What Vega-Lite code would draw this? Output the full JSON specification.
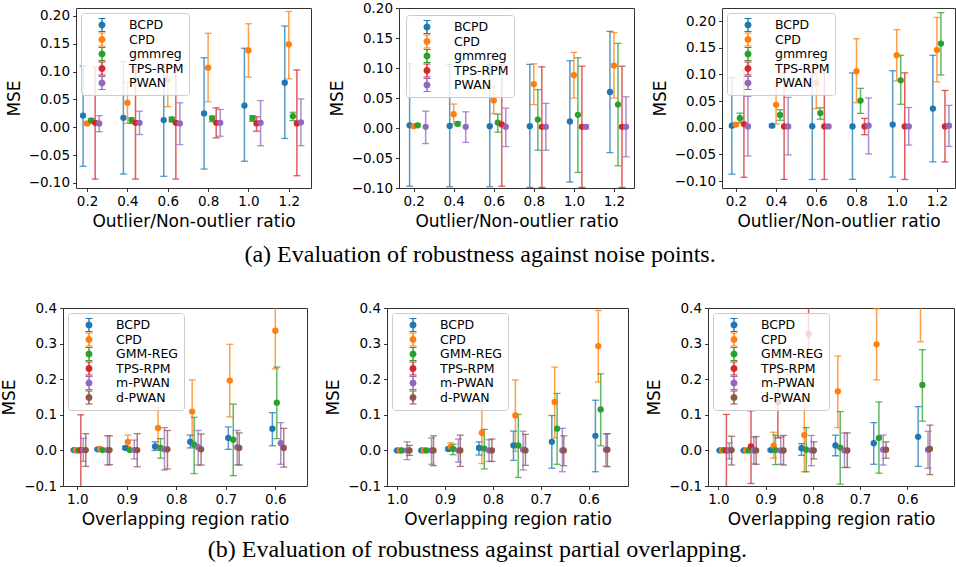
{
"$schema": "https://vega.github.io/schema/vega-lite/v6.json",
"padding": {"left": 0, "top": 0, "right": 0, "bottom": 0},
"background": "white",
"config": {
  "font": "DejaVu Sans",
  "view": {"stroke": "#333333", "strokeWidth": 1},
  "axis": {"grid": false, "domain": false, "tickColor": "#000000", "tickSize": 3.5, "tickWidth": 0.8, "labelColor": "#000000", "labelFontSize": 13.5, "labelFont": "DejaVu Sans", "labelPadding": 3, "labelFlush": false, "labelOverlap": false, "titleFont": "DejaVu Sans", "titleFontSize": 17, "titleFontWeight": "normal", "titleColor": "#000000", "titlePadding": 5},
  "legend": {"orient": "top-left", "offset": 5, "padding": 5, "fillColor": "rgba(255,255,255,0.8)", "strokeColor": "#cccccc", "cornerRadius": 3, "labelFont": "DejaVu Sans", "labelFontSize": 12.5, "labelColor": "#000000", "labelOffset": 20, "symbolOffset": 9, "rowPadding": 0.5, "symbolSize": 196, "symbolStrokeWidth": 0, "symbolOpacity": 1}
},
"datasets": {
  "p1": [
    {"x":0.18,"mse":0.021,"lo":-0.070,"hi":0.110,"method":"BCPD"},
    {"x":0.38,"mse":0.017,"lo":-0.084,"hi":0.118,"method":"BCPD"},
    {"x":0.58,"mse":0.013,"lo":-0.088,"hi":0.113,"method":"BCPD"},
    {"x":0.78,"mse":0.025,"lo":-0.075,"hi":0.125,"method":"BCPD"},
    {"x":0.98,"mse":0.039,"lo":-0.061,"hi":0.142,"method":"BCPD"},
    {"x":1.18,"mse":0.080,"lo":-0.020,"hi":0.182,"method":"BCPD"},
    {"x":0.20,"mse":0.007,"lo":0.004,"hi":0.010,"method":"CPD"},
    {"x":0.40,"mse":0.044,"lo":0.007,"hi":0.081,"method":"CPD"},
    {"x":0.60,"mse":0.085,"lo":0.037,"hi":0.133,"method":"CPD"},
    {"x":0.80,"mse":0.107,"lo":0.046,"hi":0.169,"method":"CPD"},
    {"x":1.00,"mse":0.138,"lo":0.090,"hi":0.186,"method":"CPD"},
    {"x":1.20,"mse":0.149,"lo":0.087,"hi":0.208,"method":"CPD"},
    {"x":0.22,"mse":0.012,"lo":0.008,"hi":0.016,"method":"gmmreg"},
    {"x":0.42,"mse":0.013,"lo":0.007,"hi":0.017,"method":"gmmreg"},
    {"x":0.62,"mse":0.014,"lo":0.010,"hi":0.018,"method":"gmmreg"},
    {"x":0.82,"mse":0.016,"lo":0.010,"hi":0.020,"method":"gmmreg"},
    {"x":1.02,"mse":0.016,"lo":0.011,"hi":0.021,"method":"gmmreg"},
    {"x":1.22,"mse":0.020,"lo":0.012,"hi":0.027,"method":"gmmreg"},
    {"x":0.24,"mse":0.008,"lo":-0.093,"hi":0.108,"method":"TPS-RPM"},
    {"x":0.44,"mse":0.008,"lo":-0.093,"hi":0.108,"method":"TPS-RPM"},
    {"x":0.64,"mse":0.008,"lo":-0.093,"hi":0.108,"method":"TPS-RPM"},
    {"x":0.84,"mse":0.008,"lo":-0.019,"hi":0.035,"method":"TPS-RPM"},
    {"x":1.04,"mse":0.007,"lo":-0.007,"hi":0.019,"method":"TPS-RPM"},
    {"x":1.24,"mse":0.007,"lo":-0.087,"hi":0.103,"method":"TPS-RPM"},
    {"x":0.26,"mse":0.007,"lo":-0.008,"hi":0.021,"method":"PWAN"},
    {"x":0.46,"mse":0.008,"lo":-0.013,"hi":0.029,"method":"PWAN"},
    {"x":0.66,"mse":0.007,"lo":-0.031,"hi":0.044,"method":"PWAN"},
    {"x":0.86,"mse":0.008,"lo":-0.016,"hi":0.032,"method":"PWAN"},
    {"x":1.06,"mse":0.008,"lo":-0.033,"hi":0.048,"method":"PWAN"},
    {"x":1.26,"mse":0.009,"lo":-0.033,"hi":0.051,"method":"PWAN"}
  ],
  "p2": [
    {"x":0.18,"mse":0.0045,"lo":-0.097,"hi":0.107,"method":"BCPD"},
    {"x":0.38,"mse":0.0035,"lo":-0.098,"hi":0.106,"method":"BCPD"},
    {"x":0.58,"mse":0.003,"lo":-0.098,"hi":0.106,"method":"BCPD"},
    {"x":0.78,"mse":0.003,"lo":-0.099,"hi":0.106,"method":"BCPD"},
    {"x":0.98,"mse":0.011,"lo":-0.090,"hi":0.112,"method":"BCPD"},
    {"x":1.18,"mse":0.060,"lo":-0.041,"hi":0.161,"method":"BCPD"},
    {"x":0.20,"mse":0.003,"lo":0.001,"hi":0.005,"method":"CPD"},
    {"x":0.40,"mse":0.023,"lo":0.007,"hi":0.040,"method":"CPD"},
    {"x":0.60,"mse":0.046,"lo":0.024,"hi":0.069,"method":"CPD"},
    {"x":0.80,"mse":0.073,"lo":0.039,"hi":0.107,"method":"CPD"},
    {"x":1.00,"mse":0.088,"lo":0.050,"hi":0.126,"method":"CPD"},
    {"x":1.20,"mse":0.104,"lo":0.050,"hi":0.159,"method":"CPD"},
    {"x":0.22,"mse":0.0045,"lo":0.002,"hi":0.007,"method":"gmmreg"},
    {"x":0.42,"mse":0.007,"lo":0.004,"hi":0.010,"method":"gmmreg"},
    {"x":0.62,"mse":0.009,"lo":-0.007,"hi":0.023,"method":"gmmreg"},
    {"x":0.82,"mse":0.014,"lo":-0.037,"hi":0.064,"method":"gmmreg"},
    {"x":1.02,"mse":0.022,"lo":-0.074,"hi":0.117,"method":"gmmreg"},
    {"x":1.22,"mse":0.039,"lo":-0.063,"hi":0.141,"method":"gmmreg"},
    {"x":0.64,"mse":0.006,"lo":-0.097,"hi":0.106,"method":"TPS-RPM"},
    {"x":0.84,"mse":0.002,"lo":-0.099,"hi":0.102,"method":"TPS-RPM"},
    {"x":1.04,"mse":0.002,"lo":-0.099,"hi":0.103,"method":"TPS-RPM"},
    {"x":1.24,"mse":0.002,"lo":-0.099,"hi":0.103,"method":"TPS-RPM"},
    {"x":0.26,"mse":0.002,"lo":-0.026,"hi":0.028,"method":"PWAN"},
    {"x":0.46,"mse":0.002,"lo":-0.024,"hi":0.027,"method":"PWAN"},
    {"x":0.66,"mse":0.002,"lo":-0.031,"hi":0.033,"method":"PWAN"},
    {"x":0.86,"mse":0.002,"lo":-0.037,"hi":0.041,"method":"PWAN"},
    {"x":1.06,"mse":0.002,"lo":-0.001,"hi":0.005,"method":"PWAN"},
    {"x":1.26,"mse":0.002,"lo":-0.048,"hi":0.052,"method":"PWAN"}
  ],
  "p3": [
    {"x":0.18,"mse":0.004,"lo":-0.087,"hi":0.094,"method":"BCPD"},
    {"x":0.38,"mse":0.004,"lo":0.002,"hi":0.006,"method":"BCPD"},
    {"x":0.58,"mse":0.003,"lo":-0.097,"hi":0.103,"method":"BCPD"},
    {"x":0.78,"mse":0.0025,"lo":-0.097,"hi":0.103,"method":"BCPD"},
    {"x":0.98,"mse":0.006,"lo":-0.0925,"hi":0.107,"method":"BCPD"},
    {"x":1.18,"mse":0.036,"lo":-0.064,"hi":0.136,"method":"BCPD"},
    {"x":0.20,"mse":0.006,"lo":0.003,"hi":0.009,"method":"CPD"},
    {"x":0.40,"mse":0.043,"lo":0.007,"hi":0.078,"method":"CPD"},
    {"x":0.60,"mse":0.084,"lo":0.036,"hi":0.131,"method":"CPD"},
    {"x":0.80,"mse":0.106,"lo":0.047,"hi":0.167,"method":"CPD"},
    {"x":1.00,"mse":0.136,"lo":0.088,"hi":0.184,"method":"CPD"},
    {"x":1.20,"mse":0.146,"lo":0.086,"hi":0.207,"method":"CPD"},
    {"x":0.22,"mse":0.018,"lo":0.009,"hi":0.0275,"method":"gmmreg"},
    {"x":0.42,"mse":0.024,"lo":0.014,"hi":0.034,"method":"gmmreg"},
    {"x":0.62,"mse":0.0275,"lo":0.016,"hi":0.0375,"method":"gmmreg"},
    {"x":0.82,"mse":0.051,"lo":0.027,"hi":0.074,"method":"gmmreg"},
    {"x":1.02,"mse":0.089,"lo":0.044,"hi":0.136,"method":"gmmreg"},
    {"x":1.22,"mse":0.158,"lo":0.099,"hi":0.216,"method":"gmmreg"},
    {"x":0.24,"mse":0.007,"lo":-0.093,"hi":0.108,"method":"TPS-RPM"},
    {"x":0.44,"mse":0.0025,"lo":-0.097,"hi":0.103,"method":"TPS-RPM"},
    {"x":0.64,"mse":0.0025,"lo":-0.097,"hi":0.103,"method":"TPS-RPM"},
    {"x":0.84,"mse":0.0025,"lo":-0.013,"hi":0.0175,"method":"TPS-RPM"},
    {"x":1.04,"mse":0.0025,"lo":-0.097,"hi":0.103,"method":"TPS-RPM"},
    {"x":1.24,"mse":0.0025,"lo":-0.064,"hi":0.070,"method":"TPS-RPM"},
    {"x":0.26,"mse":0.0025,"lo":-0.053,"hi":0.059,"method":"PWAN"},
    {"x":0.46,"mse":0.0025,"lo":-0.051,"hi":0.057,"method":"PWAN"},
    {"x":0.66,"mse":0.0025,"lo":0.0,"hi":0.005,"method":"PWAN"},
    {"x":0.86,"mse":0.004,"lo":-0.049,"hi":0.056,"method":"PWAN"},
    {"x":1.06,"mse":0.0025,"lo":-0.0325,"hi":0.038,"method":"PWAN"},
    {"x":1.26,"mse":0.004,"lo":-0.035,"hi":0.042,"method":"PWAN"}
  ],
  "p4": [
    {"x":1.007,"mse":0.001,"lo":-0.002,"hi":0.004,"method":"BCPD"},
    {"x":0.959,"mse":0.003,"lo":0.0,"hi":0.006,"method":"BCPD"},
    {"x":0.903,"mse":0.007,"lo":0.003,"hi":0.011,"method":"BCPD"},
    {"x":0.843,"mse":0.011,"lo":0.0,"hi":0.024,"method":"BCPD"},
    {"x":0.772,"mse":0.024,"lo":0.007,"hi":0.043,"method":"BCPD"},
    {"x":0.695,"mse":0.035,"lo":0.003,"hi":0.066,"method":"BCPD"},
    {"x":0.606,"mse":0.061,"lo":0.013,"hi":0.106,"method":"BCPD"},
    {"x":1.003,"mse":0.0,"lo":-0.002,"hi":0.002,"method":"CPD"},
    {"x":0.954,"mse":0.004,"lo":0.002,"hi":0.006,"method":"CPD"},
    {"x":0.898,"mse":0.024,"lo":0.011,"hi":0.043,"method":"CPD"},
    {"x":0.837,"mse":0.063,"lo":0.005,"hi":0.122,"method":"CPD"},
    {"x":0.768,"mse":0.109,"lo":0.020,"hi":0.198,"method":"CPD"},
    {"x":0.692,"mse":0.196,"lo":0.094,"hi":0.298,"method":"CPD"},
    {"x":0.600,"mse":0.336,"lo":0.229,"hi":0.438,"method":"CPD"},
    {"x":0.998,"mse":0.0,"lo":-0.002,"hi":0.002,"method":"GMM-REG"},
    {"x":0.949,"mse":0.001,"lo":-0.001,"hi":0.003,"method":"GMM-REG"},
    {"x":0.894,"mse":0.001,"lo":-0.001,"hi":0.003,"method":"GMM-REG"},
    {"x":0.832,"mse":0.007,"lo":-0.022,"hi":0.033,"method":"GMM-REG"},
    {"x":0.764,"mse":0.016,"lo":-0.065,"hi":0.093,"method":"GMM-REG"},
    {"x":0.685,"mse":0.030,"lo":-0.071,"hi":0.130,"method":"GMM-REG"},
    {"x":0.597,"mse":0.134,"lo":0.033,"hi":0.234,"method":"GMM-REG"},
    {"x":0.993,"mse":0.001,"lo":-0.103,"hi":0.100,"method":"TPS-RPM"},
    {"x":0.988,"mse":0.001,"lo":-0.031,"hi":0.034,"method":"m-PWAN"},
    {"x":0.939,"mse":0.001,"lo":-0.041,"hi":0.041,"method":"m-PWAN"},
    {"x":0.885,"mse":0.001,"lo":-0.024,"hi":0.029,"method":"m-PWAN"},
    {"x":0.824,"mse":0.003,"lo":-0.055,"hi":0.064,"method":"m-PWAN"},
    {"x":0.756,"mse":0.009,"lo":-0.041,"hi":0.056,"method":"m-PWAN"},
    {"x":0.677,"mse":0.009,"lo":-0.041,"hi":0.056,"method":"m-PWAN"},
    {"x":0.589,"mse":0.020,"lo":-0.039,"hi":0.078,"method":"m-PWAN"},
    {"x":0.983,"mse":0.001,"lo":-0.045,"hi":0.047,"method":"d-PWAN"},
    {"x":0.935,"mse":0.001,"lo":-0.040,"hi":0.041,"method":"d-PWAN"},
    {"x":0.879,"mse":0.001,"lo":-0.046,"hi":0.047,"method":"d-PWAN"},
    {"x":0.818,"mse":0.003,"lo":-0.052,"hi":0.056,"method":"d-PWAN"},
    {"x":0.750,"mse":0.003,"lo":-0.041,"hi":0.046,"method":"d-PWAN"},
    {"x":0.673,"mse":0.007,"lo":-0.041,"hi":0.049,"method":"d-PWAN"},
    {"x":0.583,"mse":0.007,"lo":-0.047,"hi":0.062,"method":"d-PWAN"}
  ],
  "p5": [
    {"x":1.000,"mse":0.0,"lo":-0.002,"hi":0.002,"method":"BCPD"},
    {"x":0.949,"mse":0.0,"lo":-0.002,"hi":0.002,"method":"BCPD"},
    {"x":0.893,"mse":0.004,"lo":0.0,"hi":0.008,"method":"BCPD"},
    {"x":0.829,"mse":0.007,"lo":-0.013,"hi":0.024,"method":"BCPD"},
    {"x":0.757,"mse":0.014,"lo":-0.028,"hi":0.054,"method":"BCPD"},
    {"x":0.677,"mse":0.024,"lo":-0.050,"hi":0.098,"method":"BCPD"},
    {"x":0.586,"mse":0.041,"lo":-0.060,"hi":0.141,"method":"BCPD"},
    {"x":0.994,"mse":0.0,"lo":-0.002,"hi":0.002,"method":"CPD"},
    {"x":0.944,"mse":0.0,"lo":-0.002,"hi":0.002,"method":"CPD"},
    {"x":0.888,"mse":0.010,"lo":0.001,"hi":0.021,"method":"CPD"},
    {"x":0.823,"mse":0.049,"lo":-0.037,"hi":0.133,"method":"CPD"},
    {"x":0.753,"mse":0.098,"lo":-0.003,"hi":0.198,"method":"CPD"},
    {"x":0.671,"mse":0.136,"lo":0.035,"hi":0.234,"method":"CPD"},
    {"x":0.580,"mse":0.293,"lo":0.192,"hi":0.393,"method":"CPD"},
    {"x":0.990,"mse":0.0,"lo":-0.002,"hi":0.002,"method":"GMM-REG"},
    {"x":0.939,"mse":0.0,"lo":-0.002,"hi":0.002,"method":"GMM-REG"},
    {"x":0.883,"mse":0.004,"lo":-0.012,"hi":0.017,"method":"GMM-REG"},
    {"x":0.818,"mse":0.005,"lo":-0.052,"hi":0.059,"method":"GMM-REG"},
    {"x":0.747,"mse":0.014,"lo":-0.076,"hi":0.101,"method":"GMM-REG"},
    {"x":0.666,"mse":0.061,"lo":-0.039,"hi":0.160,"method":"GMM-REG"},
    {"x":0.575,"mse":0.115,"lo":0.013,"hi":0.215,"method":"GMM-REG"},
    {"x":0.979,"mse":0.0,"lo":-0.026,"hi":0.024,"method":"m-PWAN"},
    {"x":0.928,"mse":0.0,"lo":-0.039,"hi":0.035,"method":"m-PWAN"},
    {"x":0.872,"mse":0.0,"lo":-0.033,"hi":0.032,"method":"m-PWAN"},
    {"x":0.808,"mse":0.0,"lo":-0.031,"hi":0.030,"method":"m-PWAN"},
    {"x":0.737,"mse":0.002,"lo":-0.055,"hi":0.054,"method":"m-PWAN"},
    {"x":0.655,"mse":0.0,"lo":-0.060,"hi":0.062,"method":"m-PWAN"},
    {"x":0.564,"mse":0.002,"lo":-0.044,"hi":0.046,"method":"m-PWAN"},
    {"x":0.974,"mse":0.0,"lo":-0.014,"hi":0.014,"method":"d-PWAN"},
    {"x":0.924,"mse":0.0,"lo":-0.043,"hi":0.041,"method":"d-PWAN"},
    {"x":0.868,"mse":0.0,"lo":-0.045,"hi":0.043,"method":"d-PWAN"},
    {"x":0.802,"mse":0.0,"lo":-0.031,"hi":0.032,"method":"d-PWAN"},
    {"x":0.732,"mse":0.0,"lo":-0.042,"hi":0.045,"method":"d-PWAN"},
    {"x":0.652,"mse":0.0,"lo":-0.043,"hi":0.041,"method":"d-PWAN"},
    {"x":0.561,"mse":0.002,"lo":-0.046,"hi":0.047,"method":"d-PWAN"}
  ],
  "p6": [
    {"x":0.997,"mse":0.0,"lo":-0.002,"hi":0.002,"method":"BCPD"},
    {"x":0.946,"mse":0.0,"lo":-0.002,"hi":0.002,"method":"BCPD"},
    {"x":0.889,"mse":0.001,"lo":-0.002,"hi":0.004,"method":"BCPD"},
    {"x":0.824,"mse":0.006,"lo":-0.014,"hi":0.019,"method":"BCPD"},
    {"x":0.752,"mse":0.014,"lo":-0.015,"hi":0.043,"method":"BCPD"},
    {"x":0.671,"mse":0.020,"lo":-0.039,"hi":0.078,"method":"BCPD"},
    {"x":0.577,"mse":0.038,"lo":-0.045,"hi":0.123,"method":"BCPD"},
    {"x":0.992,"mse":0.0,"lo":-0.002,"hi":0.002,"method":"CPD"},
    {"x":0.941,"mse":0.0,"lo":-0.002,"hi":0.002,"method":"CPD"},
    {"x":0.883,"mse":0.013,"lo":-0.022,"hi":0.051,"method":"CPD"},
    {"x":0.818,"mse":0.043,"lo":-0.060,"hi":0.144,"method":"CPD"},
    {"x":0.747,"mse":0.166,"lo":0.064,"hi":0.265,"method":"CPD"},
    {"x":0.665,"mse":0.298,"lo":0.198,"hi":0.398,"method":"CPD"},
    {"x":0.572,"mse":0.420,"lo":0.305,"hi":0.535,"method":"CPD"},
    {"x":0.988,"mse":0.001,"lo":-0.001,"hi":0.003,"method":"GMM-REG"},
    {"x":0.936,"mse":0.0,"lo":-0.002,"hi":0.002,"method":"GMM-REG"},
    {"x":0.879,"mse":0.001,"lo":-0.040,"hi":0.043,"method":"GMM-REG"},
    {"x":0.814,"mse":0.002,"lo":-0.060,"hi":0.064,"method":"GMM-REG"},
    {"x":0.742,"mse":0.008,"lo":-0.095,"hi":0.109,"method":"GMM-REG"},
    {"x":0.660,"mse":0.035,"lo":-0.064,"hi":0.136,"method":"GMM-REG"},
    {"x":0.568,"mse":0.184,"lo":0.082,"hi":0.283,"method":"GMM-REG"},
    {"x":0.983,"mse":0.0,"lo":-0.103,"hi":0.101,"method":"TPS-RPM"},
    {"x":0.931,"mse":0.011,"lo":-0.093,"hi":0.111,"method":"TPS-RPM"},
    {"x":0.874,"mse":0.135,"lo":0.035,"hi":0.232,"method":"TPS-RPM"},
    {"x":0.809,"mse":0.327,"lo":0.225,"hi":0.430,"method":"TPS-RPM"},
    {"x":0.977,"mse":0.0,"lo":-0.024,"hi":0.021,"method":"m-PWAN"},
    {"x":0.925,"mse":0.0,"lo":-0.038,"hi":0.037,"method":"m-PWAN"},
    {"x":0.868,"mse":0.0,"lo":-0.039,"hi":0.038,"method":"m-PWAN"},
    {"x":0.803,"mse":0.0,"lo":-0.043,"hi":0.042,"method":"m-PWAN"},
    {"x":0.733,"mse":0.0,"lo":-0.048,"hi":0.049,"method":"m-PWAN"},
    {"x":0.651,"mse":0.002,"lo":-0.041,"hi":0.043,"method":"m-PWAN"},
    {"x":0.556,"mse":0.002,"lo":-0.050,"hi":0.054,"method":"m-PWAN"},
    {"x":0.972,"mse":0.001,"lo":-0.041,"hi":0.040,"method":"d-PWAN"},
    {"x":0.920,"mse":0.0,"lo":-0.039,"hi":0.039,"method":"d-PWAN"},
    {"x":0.862,"mse":0.0,"lo":-0.041,"hi":0.042,"method":"d-PWAN"},
    {"x":0.798,"mse":0.0,"lo":-0.024,"hi":0.024,"method":"d-PWAN"},
    {"x":0.727,"mse":0.0,"lo":-0.048,"hi":0.049,"method":"d-PWAN"},
    {"x":0.645,"mse":0.002,"lo":-0.022,"hi":0.024,"method":"d-PWAN"},
    {"x":0.552,"mse":0.004,"lo":-0.068,"hi":0.071,"method":"d-PWAN"}
  ]
},
"resolve": {"scale": {"color": "independent", "x": "independent", "y": "independent"}, "legend": {"color": "independent"}},
"spacing": 33,
"vconcat": [
{
  "bounds": "flush",
  "spacing": 12,
  "resolve": {"scale": {"color": "independent", "x": "independent", "y": "independent"}, "legend": {"color": "independent"}},
  "title": {"text": "(a) Evaluation of robustness against noise points.", "orient": "bottom", "anchor": "middle", "font": "Liberation Serif", "fontSize": 24, "fontWeight": "normal", "color": "#000000", "offset": 13},
  "hconcat": [
  {
    "width": 1, "height": 180,
    "data": {"values": [{"k": 1}]},
    "mark": {"type": "point", "opacity": 0},
    "view": {"stroke": null}
  },
  {
  "bounds": "flush",
  "spacing": 88,
  "resolve": {"scale": {"color": "independent", "x": "independent", "y": "independent"}, "legend": {"color": "independent"}},
  "hconcat": [
  {
    "width": 235, "height": 180,
    "data": {"name": "p1"},
    "encoding": {
      "x": {"field": "x", "type": "quantitative", "title": "Outlier/Non-outlier ratio", "scale": {"domain": [0.145, 1.31], "nice": false, "zero": false}, "axis": {"values": [0.2,0.4,0.6,0.8,1.0,1.2], "format": ".1f"}},
      "color": {"field": "method", "type": "nominal", "scale": {"domain": ["BCPD","CPD","gmmreg","TPS-RPM","PWAN"], "range": ["#1f77b4","#ff7f0e","#2ca02c","#d62728","#9467bd"]}, "legend": {"title": null, "symbolType": "M-0.1,-1H0.1V1H-0.1Z M-0.5,-1H0.5V-0.84H-0.5Z M-0.5,0.84H0.5V1H-0.5Z M0.5,0A0.5,0.5,0,1,1,-0.5,0A0.5,0.5,0,1,1,0.5,0Z"}}
    },
    "layer": [
      {"mark": {"type": "rule", "strokeWidth": 1.5, "opacity": 0.75, "clip": true}, "encoding": {"y": {"field": "lo", "type": "quantitative", "title": "MSE", "scale": {"domain": [-0.109, 0.2143], "nice": false, "zero": false}, "axis": {"values": [-0.1,-0.05,0,0.05,0.1,0.15,0.2], "format": ".2f"}}, "y2": {"field": "hi"}}},
      {"mark": {"type": "tick", "orient": "horizontal", "size": 7, "thickness": 1.3, "opacity": 0.75, "clip": true}, "encoding": {"y": {"field": "hi", "type": "quantitative", "title": "MSE", "scale": {"domain": [-0.109, 0.2143], "nice": false, "zero": false}, "axis": {"values": [-0.1,-0.05,0,0.05,0.1,0.15,0.2], "format": ".2f"}}}},
      {"mark": {"type": "tick", "orient": "horizontal", "size": 7, "thickness": 1.3, "opacity": 0.75, "clip": true}, "encoding": {"y": {"field": "lo", "type": "quantitative", "title": "MSE", "scale": {"domain": [-0.109, 0.2143], "nice": false, "zero": false}, "axis": {"values": [-0.1,-0.05,0,0.05,0.1,0.15,0.2], "format": ".2f"}}}},
      {"mark": {"type": "circle", "size": 40, "opacity": 1, "clip": true}, "encoding": {"y": {"field": "mse", "type": "quantitative", "title": "MSE", "scale": {"domain": [-0.109, 0.2143], "nice": false, "zero": false}, "axis": {"values": [-0.1,-0.05,0,0.05,0.1,0.15,0.2], "format": ".2f"}}}}
    ]
  },
  {
    "width": 235, "height": 180,
    "data": {"name": "p2"},
    "encoding": {
      "x": {"field": "x", "type": "quantitative", "title": "Outlier/Non-outlier ratio", "scale": {"domain": [0.127, 1.30], "nice": false, "zero": false}, "axis": {"values": [0.2,0.4,0.6,0.8,1.0,1.2], "format": ".1f"}},
      "color": {"field": "method", "type": "nominal", "scale": {"domain": ["BCPD","CPD","gmmreg","TPS-RPM","PWAN"], "range": ["#1f77b4","#ff7f0e","#2ca02c","#d62728","#9467bd"]}, "legend": {"title": null, "offset": 7, "symbolType": "M-0.1,-1H0.1V1H-0.1Z M-0.5,-1H0.5V-0.84H-0.5Z M-0.5,0.84H0.5V1H-0.5Z M0.5,0A0.5,0.5,0,1,1,-0.5,0A0.5,0.5,0,1,1,0.5,0Z"}}
    },
    "layer": [
      {"mark": {"type": "rule", "strokeWidth": 1.5, "opacity": 0.75, "clip": true}, "encoding": {"y": {"field": "lo", "type": "quantitative", "title": "MSE", "scale": {"domain": [-0.1, 0.2], "nice": false, "zero": false}, "axis": {"values": [-0.1,-0.05,0,0.05,0.1,0.15,0.2], "format": ".2f"}}, "y2": {"field": "hi"}}},
      {"mark": {"type": "tick", "orient": "horizontal", "size": 7, "thickness": 1.3, "opacity": 0.75, "clip": true}, "encoding": {"y": {"field": "hi", "type": "quantitative", "title": "MSE", "scale": {"domain": [-0.1, 0.2], "nice": false, "zero": false}, "axis": {"values": [-0.1,-0.05,0,0.05,0.1,0.15,0.2], "format": ".2f"}}}},
      {"mark": {"type": "tick", "orient": "horizontal", "size": 7, "thickness": 1.3, "opacity": 0.75, "clip": true}, "encoding": {"y": {"field": "lo", "type": "quantitative", "title": "MSE", "scale": {"domain": [-0.1, 0.2], "nice": false, "zero": false}, "axis": {"values": [-0.1,-0.05,0,0.05,0.1,0.15,0.2], "format": ".2f"}}}},
      {"mark": {"type": "circle", "size": 40, "opacity": 1, "clip": true}, "encoding": {"y": {"field": "mse", "type": "quantitative", "title": "MSE", "scale": {"domain": [-0.1, 0.2], "nice": false, "zero": false}, "axis": {"values": [-0.1,-0.05,0,0.05,0.1,0.15,0.2], "format": ".2f"}}}}
    ]
  },
  {
    "width": 233, "height": 180,
    "data": {"name": "p3"},
    "encoding": {
      "x": {"field": "x", "type": "quantitative", "title": "Outlier/Non-outlier ratio", "scale": {"domain": [0.131, 1.29], "nice": false, "zero": false}, "axis": {"values": [0.2,0.4,0.6,0.8,1.0,1.2], "format": ".1f"}},
      "color": {"field": "method", "type": "nominal", "scale": {"domain": ["BCPD","CPD","gmmreg","TPS-RPM","PWAN"], "range": ["#1f77b4","#ff7f0e","#2ca02c","#d62728","#9467bd"]}, "legend": {"title": null, "symbolType": "M-0.1,-1H0.1V1H-0.1Z M-0.5,-1H0.5V-0.84H-0.5Z M-0.5,0.84H0.5V1H-0.5Z M0.5,0A0.5,0.5,0,1,1,-0.5,0A0.5,0.5,0,1,1,0.5,0Z"}}
    },
    "layer": [
      {"mark": {"type": "rule", "strokeWidth": 1.5, "opacity": 0.75, "clip": true}, "encoding": {"y": {"field": "lo", "type": "quantitative", "title": "MSE", "scale": {"domain": [-0.113, 0.2247], "nice": false, "zero": false}, "axis": {"values": [-0.1,-0.05,0,0.05,0.1,0.15,0.2], "format": ".2f"}}, "y2": {"field": "hi"}}},
      {"mark": {"type": "tick", "orient": "horizontal", "size": 7, "thickness": 1.3, "opacity": 0.75, "clip": true}, "encoding": {"y": {"field": "hi", "type": "quantitative", "title": "MSE", "scale": {"domain": [-0.113, 0.2247], "nice": false, "zero": false}, "axis": {"values": [-0.1,-0.05,0,0.05,0.1,0.15,0.2], "format": ".2f"}}}},
      {"mark": {"type": "tick", "orient": "horizontal", "size": 7, "thickness": 1.3, "opacity": 0.75, "clip": true}, "encoding": {"y": {"field": "lo", "type": "quantitative", "title": "MSE", "scale": {"domain": [-0.113, 0.2247], "nice": false, "zero": false}, "axis": {"values": [-0.1,-0.05,0,0.05,0.1,0.15,0.2], "format": ".2f"}}}},
      {"mark": {"type": "circle", "size": 40, "opacity": 1, "clip": true}, "encoding": {"y": {"field": "mse", "type": "quantitative", "title": "MSE", "scale": {"domain": [-0.113, 0.2247], "nice": false, "zero": false}, "axis": {"values": [-0.1,-0.05,0,0.05,0.1,0.15,0.2], "format": ".2f"}}}}
    ]
  }
  ]
  }
  ]
},
{
  "bounds": "flush",
  "spacing": 80,
  "resolve": {"scale": {"color": "independent", "x": "independent", "y": "independent"}, "legend": {"color": "independent"}},
  "title": {"text": "(b) Evaluation of robustness against partial overlapping.", "orient": "bottom", "anchor": "middle", "font": "Liberation Serif", "fontSize": 24, "fontWeight": "normal", "color": "#000000", "offset": 10},
  "hconcat": [
  {
    "width": 244, "height": 178,
    "data": {"name": "p4"},
    "encoding": {
      "x": {"field": "x", "type": "quantitative", "title": "Overlapping region ratio", "scale": {"domain": [0.536, 1.029], "reverse": true, "nice": false, "zero": false}, "axis": {"values": [0.6,0.7,0.8,0.9,1.0], "format": ".1f"}},
      "color": {"field": "method", "type": "nominal", "scale": {"domain": ["BCPD","CPD","GMM-REG","TPS-RPM","m-PWAN","d-PWAN"], "range": ["#1f77b4","#ff7f0e","#2ca02c","#d62728","#9467bd","#8c564b"]}, "legend": {"title": null, "symbolType": "M-0.1,-1H0.1V1H-0.1Z M-0.5,-1H0.5V-0.84H-0.5Z M-0.5,0.84H0.5V1H-0.5Z M0.5,0A0.5,0.5,0,1,1,-0.5,0A0.5,0.5,0,1,1,0.5,0Z"}}
    },
    "layer": [
      {"mark": {"type": "rule", "strokeWidth": 1.5, "opacity": 0.75, "clip": true}, "encoding": {"y": {"field": "lo", "type": "quantitative", "title": "MSE", "scale": {"domain": [-0.1, 0.4], "nice": false, "zero": false}, "axis": {"values": [-0.1,0,0.1,0.2,0.3,0.4], "format": ".1f"}}, "y2": {"field": "hi"}}},
      {"mark": {"type": "tick", "orient": "horizontal", "size": 7, "thickness": 1.3, "opacity": 0.75, "clip": true}, "encoding": {"y": {"field": "hi", "type": "quantitative", "title": "MSE", "scale": {"domain": [-0.1, 0.4], "nice": false, "zero": false}, "axis": {"values": [-0.1,0,0.1,0.2,0.3,0.4], "format": ".1f"}}}},
      {"mark": {"type": "tick", "orient": "horizontal", "size": 7, "thickness": 1.3, "opacity": 0.75, "clip": true}, "encoding": {"y": {"field": "lo", "type": "quantitative", "title": "MSE", "scale": {"domain": [-0.1, 0.4], "nice": false, "zero": false}, "axis": {"values": [-0.1,0,0.1,0.2,0.3,0.4], "format": ".1f"}}}},
      {"mark": {"type": "circle", "size": 40, "opacity": 1, "clip": true}, "encoding": {"y": {"field": "mse", "type": "quantitative", "title": "MSE", "scale": {"domain": [-0.1, 0.4], "nice": false, "zero": false}, "axis": {"values": [-0.1,0,0.1,0.2,0.3,0.4], "format": ".1f"}}}}
    ]
  },
  {
    "width": 241, "height": 178,
    "data": {"name": "p5"},
    "encoding": {
      "x": {"field": "x", "type": "quantitative", "title": "Overlapping region ratio", "scale": {"domain": [0.518, 1.021], "reverse": true, "nice": false, "zero": false}, "axis": {"values": [0.6,0.7,0.8,0.9,1.0], "format": ".1f"}},
      "color": {"field": "method", "type": "nominal", "scale": {"domain": ["BCPD","CPD","GMM-REG","TPS-RPM","m-PWAN","d-PWAN"], "range": ["#1f77b4","#ff7f0e","#2ca02c","#d62728","#9467bd","#8c564b"]}, "legend": {"title": null, "symbolType": "M-0.1,-1H0.1V1H-0.1Z M-0.5,-1H0.5V-0.84H-0.5Z M-0.5,0.84H0.5V1H-0.5Z M0.5,0A0.5,0.5,0,1,1,-0.5,0A0.5,0.5,0,1,1,0.5,0Z"}}
    },
    "layer": [
      {"mark": {"type": "rule", "strokeWidth": 1.5, "opacity": 0.75, "clip": true}, "encoding": {"y": {"field": "lo", "type": "quantitative", "title": "MSE", "scale": {"domain": [-0.1, 0.4], "nice": false, "zero": false}, "axis": {"values": [-0.1,0,0.1,0.2,0.3,0.4], "format": ".1f"}}, "y2": {"field": "hi"}}},
      {"mark": {"type": "tick", "orient": "horizontal", "size": 7, "thickness": 1.3, "opacity": 0.75, "clip": true}, "encoding": {"y": {"field": "hi", "type": "quantitative", "title": "MSE", "scale": {"domain": [-0.1, 0.4], "nice": false, "zero": false}, "axis": {"values": [-0.1,0,0.1,0.2,0.3,0.4], "format": ".1f"}}}},
      {"mark": {"type": "tick", "orient": "horizontal", "size": 7, "thickness": 1.3, "opacity": 0.75, "clip": true}, "encoding": {"y": {"field": "lo", "type": "quantitative", "title": "MSE", "scale": {"domain": [-0.1, 0.4], "nice": false, "zero": false}, "axis": {"values": [-0.1,0,0.1,0.2,0.3,0.4], "format": ".1f"}}}},
      {"mark": {"type": "circle", "size": 40, "opacity": 1, "clip": true}, "encoding": {"y": {"field": "mse", "type": "quantitative", "title": "MSE", "scale": {"domain": [-0.1, 0.4], "nice": false, "zero": false}, "axis": {"values": [-0.1,0,0.1,0.2,0.3,0.4], "format": ".1f"}}}}
    ]
  },
  {
    "width": 246, "height": 178,
    "data": {"name": "p6"},
    "encoding": {
      "x": {"field": "x", "type": "quantitative", "title": "Overlapping region ratio", "scale": {"domain": [0.501, 1.022], "reverse": true, "nice": false, "zero": false}, "axis": {"values": [0.6,0.7,0.8,0.9,1.0], "format": ".1f"}},
      "color": {"field": "method", "type": "nominal", "scale": {"domain": ["BCPD","CPD","GMM-REG","TPS-RPM","m-PWAN","d-PWAN"], "range": ["#1f77b4","#ff7f0e","#2ca02c","#d62728","#9467bd","#8c564b"]}, "legend": {"title": null, "symbolType": "M-0.1,-1H0.1V1H-0.1Z M-0.5,-1H0.5V-0.84H-0.5Z M-0.5,0.84H0.5V1H-0.5Z M0.5,0A0.5,0.5,0,1,1,-0.5,0A0.5,0.5,0,1,1,0.5,0Z"}}
    },
    "layer": [
      {"mark": {"type": "rule", "strokeWidth": 1.5, "opacity": 0.75, "clip": true}, "encoding": {"y": {"field": "lo", "type": "quantitative", "title": "MSE", "scale": {"domain": [-0.1, 0.4], "nice": false, "zero": false}, "axis": {"values": [-0.1,0,0.1,0.2,0.3,0.4], "format": ".1f"}}, "y2": {"field": "hi"}}},
      {"mark": {"type": "tick", "orient": "horizontal", "size": 7, "thickness": 1.3, "opacity": 0.75, "clip": true}, "encoding": {"y": {"field": "hi", "type": "quantitative", "title": "MSE", "scale": {"domain": [-0.1, 0.4], "nice": false, "zero": false}, "axis": {"values": [-0.1,0,0.1,0.2,0.3,0.4], "format": ".1f"}}}},
      {"mark": {"type": "tick", "orient": "horizontal", "size": 7, "thickness": 1.3, "opacity": 0.75, "clip": true}, "encoding": {"y": {"field": "lo", "type": "quantitative", "title": "MSE", "scale": {"domain": [-0.1, 0.4], "nice": false, "zero": false}, "axis": {"values": [-0.1,0,0.1,0.2,0.3,0.4], "format": ".1f"}}}},
      {"mark": {"type": "circle", "size": 40, "opacity": 1, "clip": true}, "encoding": {"y": {"field": "mse", "type": "quantitative", "title": "MSE", "scale": {"domain": [-0.1, 0.4], "nice": false, "zero": false}, "axis": {"values": [-0.1,0,0.1,0.2,0.3,0.4], "format": ".1f"}}}}
    ]
  }
  ]
}
]
}
